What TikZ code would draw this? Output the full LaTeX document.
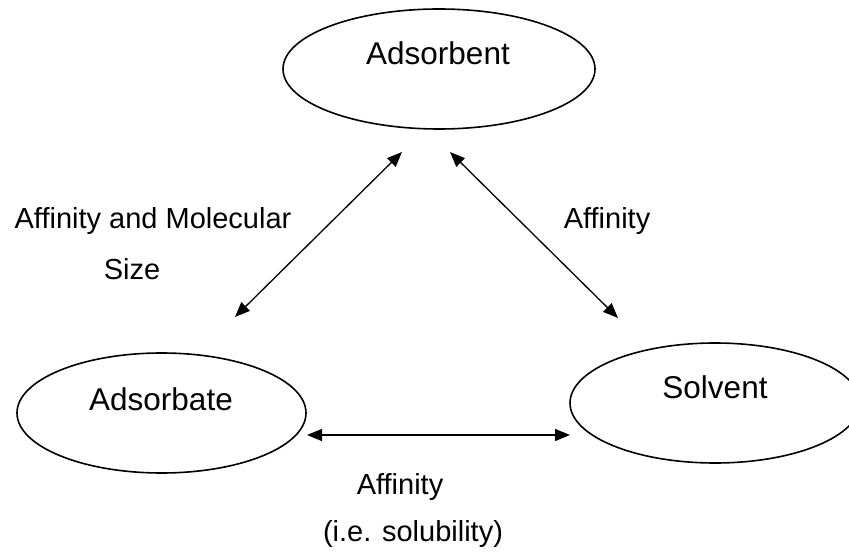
\documentclass[tikz,border=0pt]{standalone}
\usepackage{fontspec}
\setmainfont{Liberation Sans}
\usetikzlibrary{arrows.meta}
\begin{document}
\begin{tikzpicture}[x=1pt,y=-1pt,
  oval/.style={draw=black,line width=1.6pt,ellipse,inner sep=0pt},
  nodelabel/.style={anchor=base,inner sep=0pt,font=\fontsize{31.5}{36}\selectfont},
  annot/.style={anchor=base,inner sep=0pt,font=\fontsize{29}{34}\selectfont},
  link/.style={line width=1.3pt,{Triangle[length=15pt,width=12pt]}-{Triangle[length=15pt,width=12pt]}}]
\clip (0,0) rectangle (849,553);
\fill[white] (0,0) rectangle (849,553);
% ellipses
\draw[line width=1.6pt] (439,69) ellipse [x radius=156, y radius=60];
\draw[line width=1.6pt] (161.5,413) ellipse [x radius=144.5, y radius=60];
\draw[line width=1.6pt] (715,403) ellipse [x radius=145, y radius=60];
% labels
\node[nodelabel] (adsorbent) at (438,65) {Adsorbent};
\node[nodelabel] (adsorbate) at (161,410) {Adsorbate};
\node[nodelabel] (solvent) at (715,398) {Solvent};
\node[annot] (lblA) at (153,229) {Affinity and Molecular};
\node[annot] (lblB) at (132,280) {Size};
\node[annot] (lblC) at (607,229) {Affinity};
\node[annot] (lblD) at (400,494) {Affinity};
\node[annot] (lblE) at (413,541) {(i.e. solubility)};
% arrow end points
\coordinate (l1) at (235,317);
\coordinate (l2) at (402,152);
\coordinate (r1) at (450,152);
\coordinate (r2) at (618,318);
\coordinate (b1) at (307,435);
\coordinate (b2) at (570,435);
\draw[link] (l1) -- (l2);
\draw[link] (r1) -- (r2);
\draw[link] (b1) -- (b2);
\end{tikzpicture}
\end{document}
